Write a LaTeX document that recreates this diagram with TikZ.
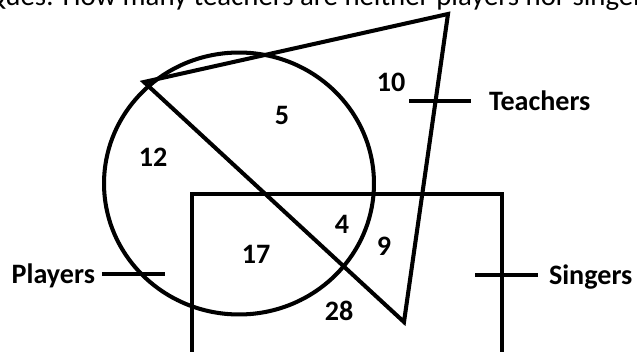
\documentclass[tikz,border=0pt]{standalone}
\usepackage{fontspec}
\setmainfont{Carlito}
\usetikzlibrary{calc}

\begin{document}
\begin{tikzpicture}[x=0.02cm,y=-0.02cm,line width=2.3pt,
  font=\fontsize{16}{19}\selectfont,
  count/.style={font=\fontsize{16}{19}\selectfont\bfseries,inner sep=0pt},
  tag/.style={font=\fontsize{16}{19}\selectfont\bfseries,inner sep=0pt,text depth=0pt}]
  \clip (0,0) rectangle (637,352);

  % question line, cut off by the frame
  \node[anchor=base west,inner sep=0pt,font=\fontsize{16.4}{19}\selectfont] (question) at (-16,5)
    {Ques: How many teachers are neither players nor singers?};

  % the three sets
  \coordinate (pc) at (239,183.5);
  \draw (pc) ellipse [x radius=2.7cm,y radius=2.62cm];
  \coordinate (sa) at (192,194);
  \coordinate (sb) at (502,380);
  \draw (sa) rectangle (sb);
  \coordinate (ta) at (144,82);
  \coordinate (tb) at (448,14);
  \coordinate (tc) at (404,322);
  \draw (ta) -- (tb) -- (tc) -- cycle;

  % set names with their marks
  \node[tag,anchor=west] (teachers) at (487,101) {Teachers};
  \node[tag,anchor=east] (players) at (97,274) {Players};
  \node[tag,anchor=west] (singers) at (547,275) {Singers};
  \coordinate (tmark) at (409,101);
  \coordinate (pmark) at (165,274);
  \coordinate (smark) at (475,275);
  \draw (tmark) -- ([xshift=-0.32cm]teachers.west);
  \draw ([xshift=0.1cm]players.east) -- (pmark);
  \draw (smark) -- ([xshift=-0.18cm]singers.west);

  % region counts
  \node[count] (n5) at (282,115) {5};
  \node[count] (n12) at (153,157) {12};
  \node[count] (n10) at (391,82) {10};
  \node[count] (n4) at (342,224) {4};
  \node[count] (n9) at (384,246) {9};
  \node[count] (n17) at (256,254) {17};
  \node[count] (n28) at (339,311) {28};
\end{tikzpicture}
\end{document}
